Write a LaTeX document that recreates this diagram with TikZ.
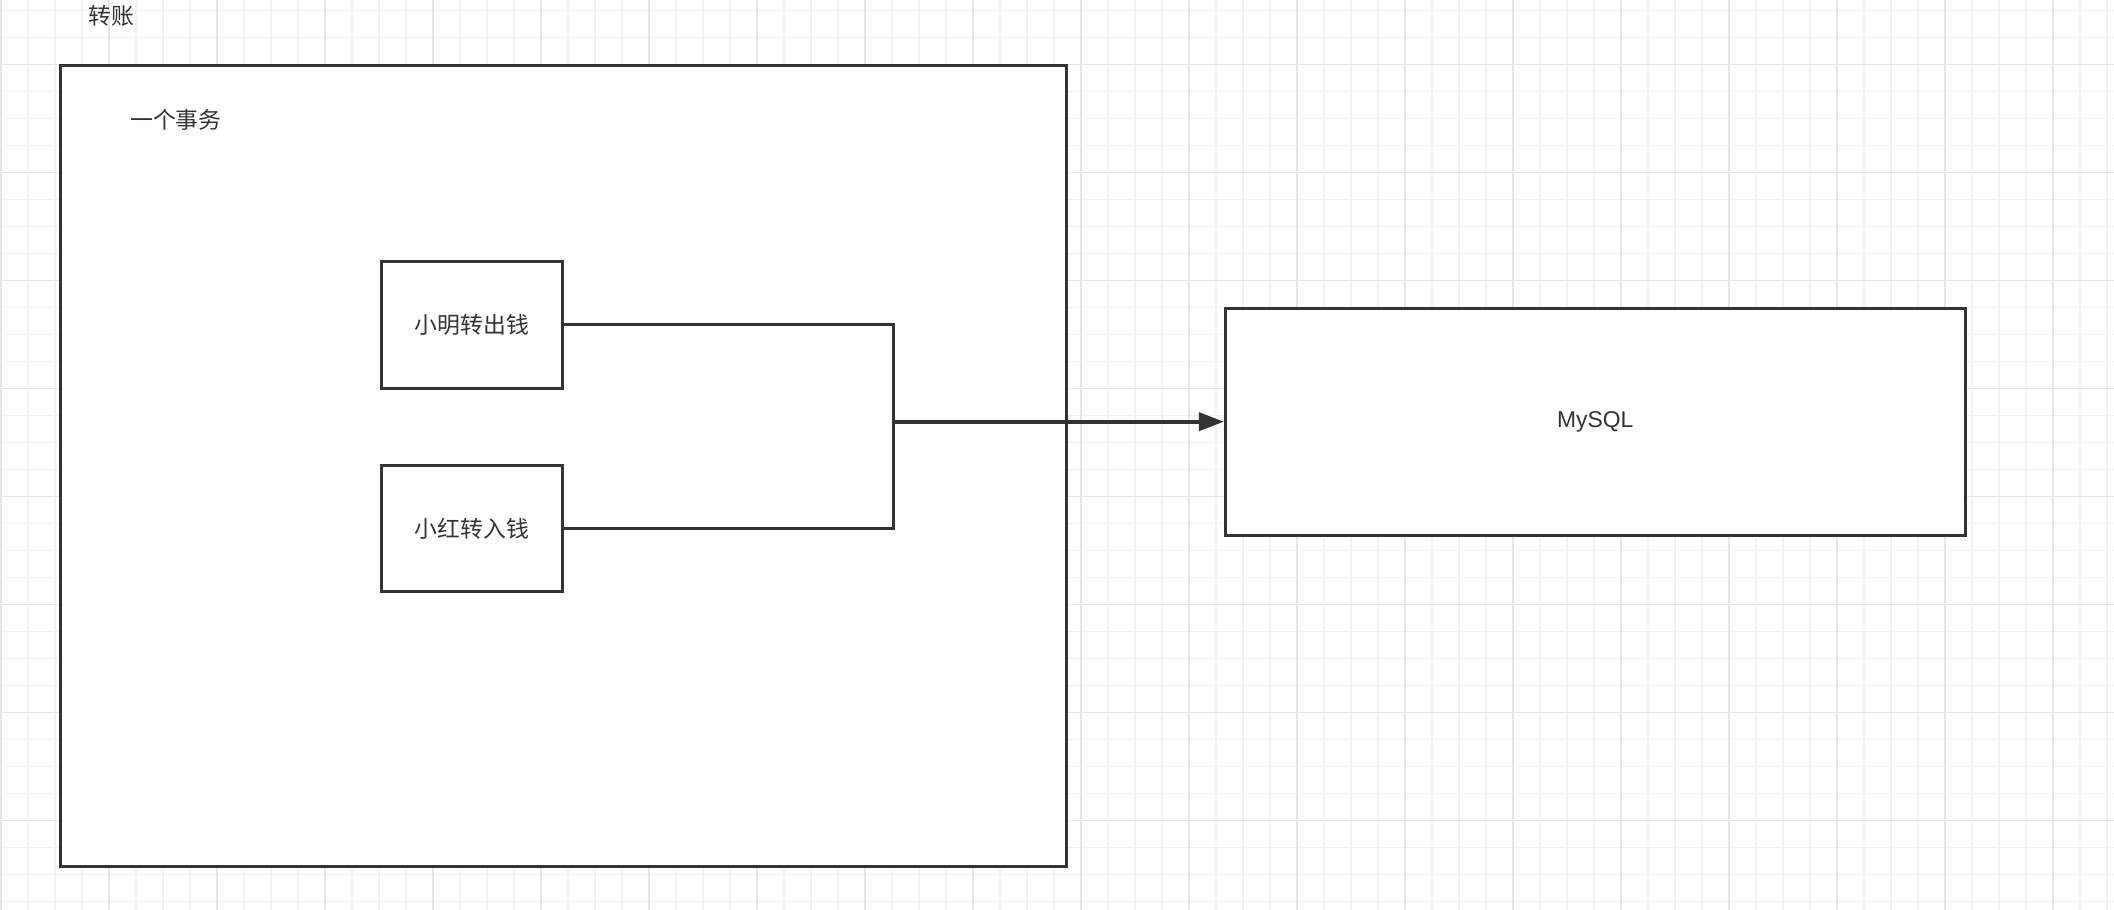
\documentclass[tikz,border=0pt]{standalone}
\usepackage{fontspec}
\setmainfont{Liberation Sans}
\newfontfamily\cjk{Noto Sans CJK SC}
\usetikzlibrary{arrows.meta}
\definecolor{ink}{HTML}{333333}
\definecolor{gridminor}{HTML}{F2F2F2}
\definecolor{gridmajor}{HTML}{E6E6E6}

\begin{document}
\begin{tikzpicture}[x=0.01cm,y=-0.01cm,
   box/.style={rectangle,draw=ink,fill=white,line width=0.8pt,inner sep=0pt},
   txt/.style={font=\fontsize{6.5}{8}\selectfont\cjk,text=ink,inner sep=0pt},
   wire/.style={draw=ink,line width=0.85pt},
   feed/.style={draw=ink,line width=1.1pt,-{Triangle[length=0.25cm,width=0.18cm]}}]
   % Background
   \fill[white] (0,0) rectangle (2114,910);
   \useasboundingbox (0,0) rectangle (2114,910);
   \foreach \i in {0,...,78} \draw[gridminor,line width=0.4pt] (1+27*\i,0) -- (1+27*\i,910);
   \foreach \j in {0,...,33} \draw[gridminor,line width=0.4pt] (0,10.7+27*\j) -- (2114,10.7+27*\j);
   \foreach \i in {0,...,19} \draw[gridmajor,line width=0.4pt] (1+108*\i,0) -- (1+108*\i,910);
   \foreach \j in {0,...,7} \draw[gridmajor,line width=0.4pt] (0,64.7+108*\j) -- (2114,64.7+108*\j);
   % Transaction
   \node[txt,anchor=west] (title) at (88,16.3) {转账};
   \node[box,minimum width=10.05cm,minimum height=8.005cm] (txn) at (563.5,465.75) {};
   \node[txt,anchor=west] (txnlabel) at (129.5,119.5) {一个事务};
   \node[box,txt,minimum width=1.81cm,minimum height=1.266cm] (xm) at (472,325) {小明转出钱};
   \node[box,txt,minimum width=1.81cm,minimum height=1.26cm] (xh) at (472,528.7) {小红转入钱};
   % MySQL
   \node[box,txt,font=\fontsize{6.5}{8}\selectfont,minimum width=7.395cm,minimum height=2.267cm] (db) at (1595.25,421.7) {MySQL};
   % Connectors
   \coordinate (jn) at (893.6,421.7);
   \draw[wire] (xm.east) -| (jn);
   \draw[wire] (xh.east) -| (jn);
   \draw[feed] (jn) -- (db.west);
\end{tikzpicture}
\end{document}
